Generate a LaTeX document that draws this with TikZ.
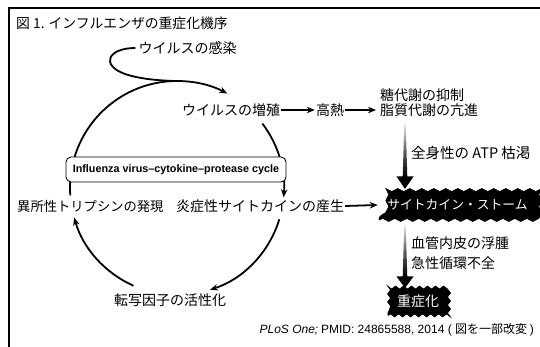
\documentclass[tikz,border=0pt]{standalone}
\usepackage{fontspec}
\setmainfont{Noto Sans CJK JP}
\newfontfamily\lat{Liberation Sans}
\usetikzlibrary{arrows.meta, decorations.pathmorphing, calc}
\begin{document}
\begin{tikzpicture}[x=1pt, y=1pt,
  lbl/.style={inner sep=1pt, font=\fontsize{14}{16}\selectfont},
  cyc/.style={line width=1.8pt},
  arr/.style={line width=1.8pt, -{Stealth[length=8pt, width=6.5pt]}},
  blob/.style={fill=black, draw=black, line width=0.6pt, text=white, inner sep=0pt,
    decorate, decoration={snake, segment length=#1, amplitude=1.5pt}},
  wedge/.style={top color=white, bottom color=black, middle color=black!60},
  ]
\useasboundingbox (0,0) rectangle (540,347);
\draw[line width=1.3pt] (9,0) -- (9,339) -- (541,339);

\node[lbl, anchor=west, font=\fontsize{13.8}{15}\selectfont] (title) at (15,324) {図 1. インフルエンザの重症化機序};

% cycle
\coordinate (C) at (177,159);
\node[lbl] (inf) at (187.5,299) {ウイルスの感染};
\node[lbl] (zo) at (231,237) {ウイルスの増殖};
\node[lbl] (cyto) at (260,141) {炎症性サイトカインの産生};
\node[lbl, anchor=west, font=\fontsize{13.3}{15}\selectfont] (tryp) at (16,141) {異所性トリプシンの発現};
\node[lbl] (tf) at (170,47) {転写因子の活性化};

\draw[cyc] ([xshift=-2pt]inf.west) .. controls (108,299) and (100,282) .. (125,273)
  .. controls (140,268) and (158,266.5) .. (175,266);
\draw[arr] (C) ++(184:107) arc[start angle=184, end angle=62, radius=107];
\draw[arr] (C) ++(37:107) arc[start angle=37, end angle=-5, radius=107];
\draw[arr] (C) ++(-17:107) arc[start angle=-17, end angle=-72, radius=107];
\draw[arr] (C) ++(-114:107) arc[start angle=-114, end angle=-164, radius=107];

\node[draw, fill=white, rounded corners=5pt, line width=0.9pt, minimum width=220pt,
  minimum height=25pt, inner sep=0pt, font=\lat\bfseries\fontsize{10.8}{12}\selectfont]
  (cyclebox) at (176,177.5) {Influenza virus–cytokine–protease cycle};

% right side
\node[lbl] (fever) at (330,237) {高熱};
\node[lbl, anchor=west] (met1) at (379,252) {糖代謝の抑制};
\node[lbl, anchor=west] (met2) at (379,237) {脂質代謝の亢進};
\node[lbl, anchor=west, font=\fontsize{14.5}{16}\selectfont] (atp) at (410,194) {全身性の ATP 枯渇};
\node[blob=12pt, minimum width=157pt, minimum height=30pt, font=\fontsize{12.8}{14}\selectfont]
  (storm) at (457.5,142) {サイトカイン・ストーム};
\node[lbl, anchor=west] (vas1) at (410,104) {血管内皮の浮腫};
\node[lbl, anchor=west] (vas2) at (410,84) {急性循環不全};
\node[blob=8pt, minimum width=60pt, minimum height=28pt, font=\fontsize{14}{16}\selectfont]
  (severe) at (418,45.5) {重症化};

\draw[arr] (zo.east) -- (fever.west);
\draw[arr] (fever.east) -- ([xshift=-3pt]met2.west);
\draw[arr] (cyto.east) -- ([xshift=-1pt]storm.west);

% gradient wedge arrows
\shade[wedge] (404.4,227) -- (405.6,227) -- (407.3,170) -- (402.7,170) -- cycle;
\fill (396.5,170.5) -- (413.5,170.5) -- (405,158) -- cycle;
\shade[wedge] (404.4,126) -- (405.6,126) -- (407.3,70) -- (402.7,70) -- cycle;
\fill (396.5,70.5) -- (413.5,70.5) -- (405,59) -- cycle;

\node[anchor=east, inner sep=0pt, font=\fontsize{12}{14}\selectfont] (cite) at (534,17)
  {{\lat\itshape PLoS One;}\ {\lat PMID: 24865588, 2014 (\ }図を一部改変\ {\lat)}};
\end{tikzpicture}
\end{document}
